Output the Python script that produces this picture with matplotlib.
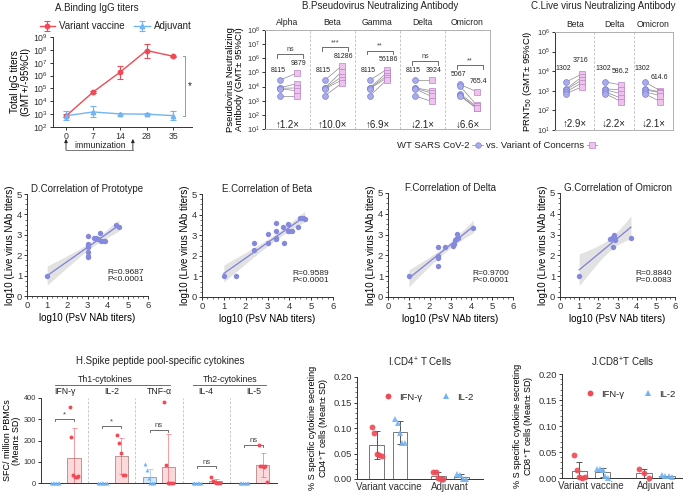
import numpy as np
import matplotlib
matplotlib.use('Agg')
import matplotlib.pyplot as plt
import matplotlib.transforms as mtrans
from matplotlib.lines import Line2D
from matplotlib.ticker import AutoMinorLocator

plt.rcParams['font.family'] = ['Liberation Sans', 'DejaVu Sans']
plt.rcParams['mathtext.fontset'] = 'custom'
plt.rcParams['mathtext.rm'] = 'Liberation Sans'
plt.rcParams['mathtext.it'] = 'Liberation Sans:italic'
plt.rcParams['axes.linewidth'] = 0.7
plt.rcParams['axes.edgecolor'] = '#333333'
plt.rcParams['text.color'] = '#222222'
for a in ('xtick', 'ytick'):
    plt.rcParams[a + '.major.size'] = 2
    plt.rcParams[a + '.major.width'] = 0.7
    plt.rcParams[a + '.minor.size'] = 1.2
    plt.rcParams[a + '.minor.width'] = 0.5
    plt.rcParams[a + '.major.pad'] = 1.5
    plt.rcParams[a + '.color'] = '#333333'

RED = '#ef4a55'
BLUE = '#74b3f2'
LAV = '#a9abea'
LAV_E = '#7f82d4'
PINK = '#eec4ee'
PINK_E = '#b884c8'
GREY = '#555555'

# ---------------- data ----------------
# A. binding IgG titers (log10 GMT and 95% CI)
days = ['0', '7', '14', '28', '35']
vac_log = [2.88, 4.72, 6.25, 7.95, 7.5]
vac_lo = [2.75, 4.65, 5.7, 7.4, 7.45]
vac_hi = [3.0, 4.78, 6.75, 8.48, 7.55]
adj_log = [2.88, 3.17, 3.02, 3.0, 2.88]
adj_lo = [2.52, 2.78, 2.95, 2.94, 2.52]
adj_hi = [3.28, 3.6, 3.08, 3.06, 3.28]

# B. pseudovirus neutralization (log10 titers)
psv_variants = ['Alpha', 'Beta', 'Gamma', 'Delta', 'Omicron']
psv_wt = [[4.45, 3.92, 3.88, 3.85, 3.35],
          [4.45, 3.92, 3.88, 3.85, 3.35],
          [4.45, 3.92, 3.88, 3.85, 3.35],
          [4.45, 3.92, 3.88, 3.85, 3.35],
          [4.15, 4.05, 3.5, 3.4, 3.35]]
psv_voc = [[4.95, 4.2, 3.9, 3.7, 3.35],
           [5.45, 5.03, 4.68, 4.45, 4.22],
           [5.2, 4.95, 4.75, 4.6, 4.45],
           [4.45, 3.7, 3.55, 3.3, 2.95],
           [3.65, 2.7, 2.6, 2.5, 2.45]]
psv_gmt_wt = ['8115', '8115', '8115', '8115', '5067']
psv_gmt_voc = ['9879', '81286', '56186', '3924', '765.4']
psv_sig = ['ns', '***', '**', 'ns', '**']
psv_fold = ['↑1.2×', '↑10.0×', '↑6.9×', '↓2.1×', '↓6.6×']

# C. live virus neutralization (log10 PRNT50)
prnt_variants = ['Beta', 'Delta', 'Omicron']
prnt_wt = [[3.45, 3.1, 3.05, 2.95, 2.85],
           [3.45, 3.1, 3.05, 2.95, 2.85],
           [3.45, 3.1, 3.05, 2.95, 2.85]]
prnt_voc = [[3.85, 3.7, 3.55, 3.4, 3.2],
            [3.3, 3.05, 2.85, 2.62, 2.45],
            [3.0, 2.95, 2.9, 2.75, 2.45]]
prnt_gmt_wt = ['1302', '1302', '1302']
prnt_gmt_voc = ['3716', '586.2', '614.6']
prnt_fold = ['↑2.9×', '↓2.2×', '↓2.1×']

# D-G. correlations (log10 PsV, log10 live virus)
corr_titles = ['D.Correlation of Prototype', 'E.Correlation of Beta',
               'F.Correlation of Delta', 'G.Correlation of Omicron']
corr_x = [[1, 3, 3, 3, 3, 3, 3, 3, 3.3, 3.4, 3.5, 3.6, 3.65, 3.8, 3.85, 4.4, 4.55],
          [1, 1.55, 2.4, 2.4, 3.0, 3.0, 3.4, 3.4, 3.4, 3.4, 3.7, 3.75, 3.95, 3.95,
           4.0, 4.1, 4.4, 4.5, 4.6, 4.7],
          [1, 2.4, 2.4, 2.4, 2.4, 2.75, 3.1, 3.15, 3.2, 3.25, 3.3, 3.35, 4.1],
          [1, 2.6, 2.7, 2.75, 2.8, 2.8, 2.85, 3.7]]
corr_y = [[1, 2.95, 2.55, 2.5, 2.4, 2.15, 1.95, 1.9, 2.85, 2.85, 2.8, 3.1, 2.72, 2.72,
           2.72, 3.5, 3.4],
          [1, 1, 2.6, 2.28, 3.08, 2.6, 3.6, 3.22, 2.82, 2.85, 3.4, 2.62, 3.55, 3.22,
           3.22, 3.2, 3.4, 3.85, 3.82, 3.78],
          [1, 2.42, 1.95, 1.88, 1.48, 2.42, 2.45, 2.55, 2.75, 2.8, 3.05, 2.82, 3.3],
          [1, 2.8, 2.82, 2.4, 2.9, 2.98, 2.75, 2.82]]
corr_r = ['R=0.9687', 'R=0.9589', 'R=0.9700', 'R=0.8840']
corr_p = ['P<0.0001', 'P<0.0001', 'P<0.0001', 'P=0.0083']
t95 = [2.13, 2.10, 2.20, 2.45]

# H. ELISpot (SFC / million PBMCs)
cyto = ['IFN-γ', 'IL-2', 'TNF-α', 'IL-4', 'IL-5']
cyto_adj = [[0, 0, 0, 0, 0, 0], [0, 0, 0, 0, 0, 0], [90, 60, 25, 0, 0, 0],
            [0, 0, 0, 0, 0, 0], [0, 0, 0, 0, 0, 0]]
cyto_vac = [[360, 215, 40, 30, 30, 35], [225, 190, 140, 40, 40],
            [380, 85, 0, 0, 0, 0], [30, 10, 5, 0, 0, 0],
            [180, 80, 78, 75, 80, 5]]
cyto_sig = ['*', '*', 'ns', 'ns', 'ns']
cyto_sig_y = [300, 270, 250, 80, 180]

# I/J. ICS (% of CD4+/CD8+ T cells)
groups = ['Variant vaccine', 'Adjuvant']
cd4_ifn = [[0.102, 0.09, 0.05, 0.048, 0.045], [0.014, 0.013, 0.002, 0.0, 0.0]]
cd4_il2 = [[0.118, 0.11, 0.09, 0.07, 0.07], [0.01, 0.008, 0.0, 0.0]]
cd8_ifn = [[0.045, 0.015, 0.002, 0.0, 0.001], [0.017, 0.01, 0.0]]
cd8_il2 = [[0.018, 0.018, 0.016, 0.003, 0.0], [0.005, 0.004, 0.003, 0.002]]

# ---------------- figure ----------------
W, H = 685, 495
fig = plt.figure(figsize=(W / 100, H / 100), dpi=100)
pxT = mtrans.Affine2D().scale(1 / W, -1 / H).translate(0, 1) + fig.transFigure


def ax_px(l, t, r, b):
    return fig.add_axes([l / W, 1 - b / H, (r - l) / W, (b - t) / H])


def ftext(x, y, s, **kw):
    fig.text(x / W, 1 - y / H, s, **kw)


# ---- A ----
axA = ax_px(53, 37, 192, 127)
xa = np.arange(len(days))
for vals, lo, hi, c, m, lab in [(vac_log, vac_lo, vac_hi, RED, 'o', 'Variant vaccine'),
                                (adj_log, adj_lo, adj_hi, BLUE, '^', 'Adjuvant')]:
    v = 10 ** np.array(vals)
    err = [v - 10 ** np.array(lo), 10 ** np.array(hi) - v]
    axA.errorbar(xa, v, yerr=err, color=c, marker=m, ms=3.2, lw=1.0,
                 capsize=2, elinewidth=0.8, capthick=0.8, label=lab)
axA.set_yscale('log')
axA.set_ylim(1e2, 1e9)
axA.set_xlim(-0.5, 4.7)
axA.set_yticks([10.0 ** k for k in range(2, 10)])
axA.set_yticklabels(['10$^{%d}$' % k for k in range(2, 10)], fontsize=6.3)
axA.minorticks_off()
axA.set_xticks(xa)
axA.set_xticklabels(days, fontsize=6.3)
axA.spines[['top', 'right']].set_visible(False)
axA.set_ylabel('Total IgG titers\n(GMT+/-95%CI)', fontsize=7, labelpad=2, linespacing=1.0)
axA.legend(loc='lower center', bbox_to_anchor=(0.45, 1.02), ncol=2, frameon=False,
           fontsize=7, handlelength=1.6, columnspacing=1.0, handletextpad=0.4,
           borderaxespad=0)
# significance bracket
yb0, yb1 = 10 ** adj_log[-1], 10 ** vac_log[-1]
axA.plot([4.35, 4.45, 4.45, 4.35], [yb0, yb0, yb1, yb1], color='#999999', lw=0.7,
         clip_on=False)
axA.text(4.6, 10 ** 5.2, '*', fontsize=7, ha='center', va='center')
ftext(97, 8, 'A.Binding IgG titers', fontsize=7, ha='center', va='center')
# immunization marks
for xp in (0, 2.5):
    xpx = 66 + xp * 26.75
    axA.annotate('', xy=(xpx, 139), xytext=(xpx, 150), xycoords=pxT, textcoords=pxT,
                 arrowprops=dict(arrowstyle='-|>', lw=0.6, color='#222222',
                                 mutation_scale=5, shrinkA=0, shrinkB=0))
fig.add_artist(Line2D([66, 66 + 2.5 * 26.75], [150, 150], transform=pxT,
                      color='#777777', lw=0.7))
ftext(100, 145.5, 'immunization', fontsize=6.3, ha='center', va='center')


# ---- B & C paired panels ----
def paired(ax, names, wt, voc, gwt, gvoc, fold, sig, ymin, ymax, xc, xs, lxc, lxs):
    n = len(names)
    for i in range(n):
        for a, b in zip(wt[i], voc[i]):
            ax.plot([i + xc, i + xs], [10 ** a, 10 ** b], color='#8a8a8a', lw=0.5, zorder=1)
        ax.plot([i + xc] * len(wt[i]), 10 ** np.array(wt[i]), 'o', ms=4.2, mfc=LAV,
                mec=LAV_E, mew=0.5, zorder=3)
        ax.plot([i + xs] * len(voc[i]), 10 ** np.array(voc[i]), 's', ms=4.2, mfc=PINK,
                mec=PINK_E, mew=0.5, zorder=3)
        ywt = max(wt[i]) + 0.7
        yvoc = max(voc[i]) + 0.7
        ax.text(i + lxc, 10 ** ywt, gwt[i], fontsize=5, ha='center', va='center')
        ax.text(i + lxs, 10 ** yvoc, gvoc[i], fontsize=5, ha='center', va='center')
        if sig is not None:
            yb = max(ywt, yvoc) + 0.65
            ax.plot([i + 0.27, i + 0.27, i + 0.84, i + 0.84],
                    10 ** np.array([yb - 0.25, yb, yb, yb - 0.25]), color=GREY, lw=0.6)
            ax.text(i + 0.555, 10 ** (yb + 0.05), sig[i], fontsize=5.2, ha='center',
                    va='bottom', color='#444444')
        ax.text(i + 0.5, 10 ** (ymin + 0.3), fold[i], fontsize=7, ha='center',
                va='center')
        ax.text(i + 0.5, 1.03, names[i], transform=ax.get_xaxis_transform(),
                fontsize=6.2, ha='center', va='bottom')
        if i > 0:
            ax.axvline(i, color='#bbbbbb', lw=0.6, ls=(0, (3, 2)))
    ax.set_yscale('log')
    ax.set_ylim(10 ** ymin, 10 ** ymax)
    ax.set_xlim(0, n)
    ax.set_yticks([10.0 ** k for k in range(ymin, ymax + 1)])
    ax.set_yticklabels(['10$^{%d}$' % k for k in range(ymin, ymax + 1)], fontsize=5.3)
    ax.minorticks_off()
    ax.set_xticks([])
    for s in ('top', 'right', 'bottom'):
        ax.spines[s].set_color('#b0b0b0')


axB = ax_px(265, 30, 490, 129)
paired(axB, psv_variants, psv_wt, psv_voc, psv_gmt_wt, psv_gmt_voc, psv_fold, psv_sig,
       1, 8, 0.33, 0.70, 0.29, 0.75)
axB.set_ylabel('Pseudovirus Neutralizing\nAntibody (GMT± 95%CI)', fontsize=6.8,
               labelpad=2, linespacing=1.0)
ftext(380, 6, 'B.Pseudovirus Neutralizing Antibody', fontsize=7, ha='center',
      va='center')

axC = ax_px(555, 32, 673, 130)
paired(axC, prnt_variants, prnt_wt, prnt_voc, prnt_gmt_wt, prnt_gmt_voc, prnt_fold, None,
       1, 6, 0.28, 0.68, 0.22, 0.66)
axC.set_ylabel('PRNT$_{50}$ (GMT± 95%CI)', fontsize=6.8, labelpad=2)
ftext(603, 6, 'C.Live virus Neutralizing Antibody', fontsize=7, ha='center',
      va='center')

hb = [Line2D([], [], color='#999999', lw=0.6, marker='o', ms=4, mfc=LAV, mec=LAV_E,
             mew=0.5),
      Line2D([], [], color='#999999', lw=0.6, marker='s', ms=4, mfc=PINK, mec=PINK_E,
             mew=0.5)]
fig.legend(hb, ['WT SARS CoV-2', 'vs. Variant of Concerns'], markerfirst=False, ncol=2,
           loc='center', bbox_to_anchor=(497 / W, 1 - 146 / H), frameon=False,
           fontsize=6.8, handlelength=1.1, columnspacing=0.3, handletextpad=0.3)

# ---- D-G ----
corr_boxes = [(27, 194, 148, 296), (202, 194, 333, 297), (388, 193, 513, 297),
              (560, 193, 675, 297)]
for k in range(4):
    ax = ax_px(*corr_boxes[k])
    x = np.array(corr_x[k], float)
    y = np.array(corr_y[k], float)
    b1, b0 = np.polyfit(x, y, 1)
    n = len(x)
    s = np.sqrt(np.sum((y - (b0 + b1 * x)) ** 2) / (n - 2))
    xx = np.linspace(x.min(), x.max(), 100)
    se = t95[k] * s * np.sqrt(1 / n + (xx - x.mean()) ** 2 / np.sum((x - x.mean()) ** 2))
    ax.fill_between(xx, b0 + b1 * xx - se, b0 + b1 * xx + se, color='#e2e2e2', lw=0,
                    zorder=1)
    ax.plot(xx, b0 + b1 * xx, color='#7d80d8', lw=0.9, zorder=2)
    ax.scatter(x, y, s=15, color='#8589dc', zorder=3, linewidths=0)
    ax.set_xlim(0, 6)
    ax.set_ylim(0, 5)
    ax.set_xticks(range(7))
    ax.set_yticks(range(6))
    ax.tick_params(labelsize=6.8)
    ax.xaxis.set_minor_locator(AutoMinorLocator(4))
    ax.yaxis.set_minor_locator(AutoMinorLocator(4))
    ax.spines[['top', 'right']].set_visible(False)
    ax.set_xlabel('log10 (PsV NAb titers)', fontsize=7, labelpad=2)
    ax.set_ylabel('log10 (Live virus NAb titers)', fontsize=7, labelpad=1)
    ax.text(0.97, 0.26, corr_r[k] + '\n' + corr_p[k], transform=ax.transAxes,
            fontsize=6, ha='right', va='top', linespacing=1.0)
    ax.set_title(corr_titles[k], fontsize=7, pad=1)

# ---- H ----
axH = ax_px(41, 398, 277, 483)
bw = 0.28
for i in range(len(cyto)):
    for vals, xo, fc, ec, c, m in [(cyto_adj[i], 0.3, '#d5e6f8', '#8899aa', BLUE, '^'),
                                   (cyto_vac[i], 0.7, '#fcd9da', '#b08888', RED, 'o')]:
        v = np.array(vals, float)
        mu, sd = v.mean(), v.std(ddof=1)
        axH.bar(i + xo, mu, width=bw, color=fc, edgecolor=ec, lw=0.6, zorder=1)
        axH.errorbar(i + xo, mu, yerr=sd, color=c, alpha=0.55, lw=0.7, capsize=1.8,
                     capthick=0.7, zorder=2)
        jit = np.linspace(-0.09, 0.09, len(v))
        axH.plot(i + xo + jit, v, m, ms=2.8, color=c, mew=0, zorder=3, clip_on=False)
    yb = cyto_sig_y[i]
    axH.plot([i + 0.3, i + 0.3, i + 0.7, i + 0.7], [yb - 10, yb, yb, yb - 10], color=GREY,
             lw=0.6)
    axH.text(i + 0.5, yb + 2, cyto_sig[i], fontsize=5.5, ha='center', va='bottom',
             color='#444444')
    axH.text(i + 0.5, 1.02, cyto[i], transform=axH.get_xaxis_transform(), fontsize=6.3,
             ha='center', va='bottom')
    axH.axvline(i + 1, color='#c0c0c0', lw=0.6, ls=(0, (3, 2)))
axH.set_xlim(0, 5)
axH.set_ylim(0, 400)
axH.set_yticks([0, 100, 200, 300, 400])
axH.tick_params(axis='y', labelsize=5.3)
axH.set_xticks([])
axH.spines[['top', 'right']].set_visible(False)
axH.set_ylabel('SFC/ million PBMCs\n(Mean± SD)', fontsize=6.5, labelpad=2, linespacing=1.0)
ftext(160, 361, 'H.Spike peptide pool-specific cytokines', fontsize=7, ha='center',
      va='center')
ftext(105, 379, 'Th1-cytokines', fontsize=6.3, ha='center', va='center')
ftext(230, 379, 'Th2-cytokines', fontsize=6.3, ha='center', va='center')
fig.add_artist(Line2D([55, 170], [384.5, 384.5], transform=pxT, color='#555555', lw=0.6))
fig.add_artist(Line2D([193, 266], [384.5, 384.5], transform=pxT, color='#555555', lw=0.6))


# ---- I & J ----
def ics(ax, ifn, il2, off, lab):
    bw = 0.24
    for g in range(len(groups)):
        for vals, xo, c, m in [(ifn[g], -off, RED, 'o'), (il2[g], off, BLUE, '^')]:
            v = np.array(vals, float)
            mu, sd = v.mean(), v.std(ddof=1)
            ax.bar(g + xo, mu, width=bw, color='white', edgecolor='#777777', lw=0.7,
                   zorder=1)
            ax.errorbar(g + xo, mu, yerr=sd, color='#555555', lw=0.7, capsize=2,
                        capthick=0.7, zorder=2)
            jit = np.linspace(-0.08, 0.08, len(v))
            ax.plot(g + xo + jit, v, m, ms=4.2, color=c, alpha=0.9, mew=0, zorder=3,
                    clip_on=False)
    ax.set_ylim(0, 0.2)
    ax.set_yticks([0, 0.05, 0.10, 0.15, 0.20])
    ax.set_yticklabels(['0.00', '0.05', '0.10', '0.15', '0.20'])
    ax.tick_params(axis='y', labelsize=6.8)
    ax.yaxis.set_minor_locator(AutoMinorLocator(5))
    ax.set_xticks(range(len(groups)))
    ax.set_xticklabels(groups, fontsize=7)
    ax.tick_params(axis='x', length=0, pad=2)
    ax.spines[['top', 'right']].set_visible(False)
    ax.set_ylabel('% S specific cytokine secreting\n' + lab + ' cells (Mean± SD)',
                  fontsize=6.5, labelpad=2, linespacing=1.0)
    hl = [Line2D([], [], ls='none', marker='o', ms=4.2, color=RED, mew=0),
          Line2D([], [], ls='none', marker='^', ms=4.2, color=BLUE, mew=0)]
    ax.legend(hl, ['IFN-γ', 'IL-2'], ncol=2, loc='upper center',
              bbox_to_anchor=(0.55, 0.93), frameon=False, fontsize=6.8,
              handletextpad=0.2, columnspacing=1.5)


axI = ax_px(357, 377, 483, 479)
axI.set_xlim(-0.51, 1.54)
ics(axI, cd4_ifn, cd4_il2, 0.19, 'CD4$^{+}$T')
ftext(420, 362, 'I.CD4$^{+}$ T Cells', fontsize=7, ha='center', va='center')

axJ = ax_px(562, 374, 682, 478)
axJ.set_xlim(-0.45, 1.41)
ics(axJ, cd8_ifn, cd8_il2, 0.18, 'CD8$^{+}$T')
ftext(623, 362, 'J.CD8$^{+}$T Cells', fontsize=7, ha='center', va='center')

fig.savefig('out.png', dpi=100)
